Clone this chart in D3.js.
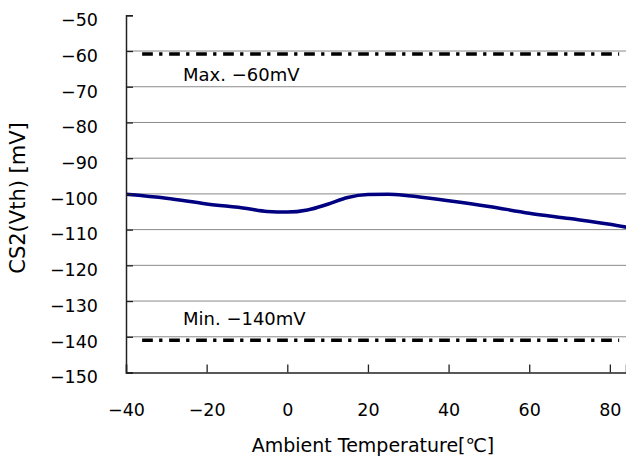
<!DOCTYPE html>
<html>
<head>
<meta charset="utf-8">
<script src="https://cdn.jsdelivr.net/npm/d3@7"></script>
<style>
body { margin: 0; background: #fff; }
text { font-family: "DejaVu Sans", "Noto Sans CJK JP", sans-serif; fill: #000; }
</style>
</head>
<body>
<div id="chart"></div>
<script>
// ambient temperature (degC) and measured threshold (mV)
var temps = [-40, -30, -20, -10, -5, 0, 5, 10, 15, 20, 25, 30, 40, 50, 60, 70, 80, 85];
var vth = [-100.1, -101.2, -102.8, -104.1, -104.9, -105.1, -104.5, -102.9, -101.0, -100.2, -100.1, -100.5, -101.9, -103.5, -105.4, -106.9, -108.5, -109.5];

// spec limit lines
var limitNames = ["Max. \u221260mV", "Min. \u2212140mV"];
var limitValues = [-60.8, -141];
var limitStart = -36;
var limitEnd = 82.3;

var xTicks = [-40, -20, 0, 20, 40, 60, 80];
var yTicks = [-50, -60, -70, -80, -90, -100, -110, -120, -130, -140, -150];

var W = 626, H = 459;
var margin = { left: 126, right: 0, top: 15.3, bottom: 86.5 };

var svg = d3.select("#chart").append("svg").attr("width", W).attr("height", H);

var x = d3.scaleLinear().domain([-40, 84]).range([margin.left, W - margin.right]);
var y = d3.scaleLinear().domain([-150, -50]).range([H - margin.bottom, margin.top]);

function minus(v) { return v < 0 ? "\u2212" + Math.abs(v) : String(v); }

// gridlines
svg.append("g").selectAll("line").data(yTicks.filter(function (d) { return d > -150 && d < -50; }))
	.enter().append("line")
	.attr("x1", x(-40)).attr("x2", W)
	.attr("y1", function (d) { return y(d); }).attr("y2", function (d) { return y(d); })
	.attr("stroke", "#8a8a8a").attr("stroke-width", 1);

svg.append("defs").append("clipPath").attr("id", "clip")
	.append("rect").attr("x", x(-40)).attr("y", margin.top).attr("width", W - x(-40)).attr("height", y(-150) - margin.top);

// limit lines
var lim = svg.append("g");
lim.selectAll("line").data(limitValues).enter().append("line")
	.attr("x1", x(limitStart)).attr("x2", x(limitEnd))
	.attr("y1", function (d) { return y(d); }).attr("y2", function (d) { return y(d); })
	.attr("stroke", "#000").attr("stroke-width", 3.5)
	.attr("stroke-dasharray", "10.7,6.3,3.3,6.7");

lim.selectAll("text").data(limitNames).enter().append("text")
	.attr("x", 183)
	.attr("y", function (d, i) { return i == 0 ? 81 : 325; })
	.style("font-size", "18px")
	.text(function (d) { return d; });

// curve
var line = d3.line().x(function (d, i) { return x(temps[i]); }).y(function (d) { return y(d); })
	.curve(d3.curveMonotoneX);
svg.append("path").datum(vth)
	.attr("clip-path", "url(#clip)")
	.attr("d", line)
	.attr("fill", "none").attr("stroke", "#000080").attr("stroke-width", 3.5);

// axes
var yAxis = d3.axisLeft(y).tickValues(yTicks).tickSize(-7).tickPadding(28).tickFormat(minus);
var gy = svg.append("g").attr("transform", "translate(" + x(-40) + ",0)").call(yAxis);
var xAxis = d3.axisBottom(x).tickValues(xTicks).tickSize(-8).tickPadding(35).tickFormat(minus);
var gx = svg.append("g").attr("transform", "translate(0," + y(-150) + ")").call(xAxis);

[gx, gy].forEach(function (g) {
	g.select(".domain").attr("stroke", "#222").attr("stroke-width", 1.5);
	g.selectAll(".tick line").attr("stroke", "#222").attr("stroke-width", 1.3);
	g.selectAll(".tick text").style("font-size", "17.5px").style("font-family", "\"DejaVu Sans\", sans-serif");
});
gy.selectAll(".tick text").attr("y", 10.3).attr("dy", 0);
gx.selectAll(".tick text").attr("y", 43.5).attr("dy", 0);

// titles
svg.append("text").attr("x", 373).attr("y", 452)
	.attr("text-anchor", "middle").style("font-size", "19px")
	.text("Ambient Temperature[\u2103]");

svg.append("text").attr("transform", "translate(24.5," + 198 + ") rotate(-90)")
	.attr("text-anchor", "middle").style("font-size", "21px")
	.text("CS2(Vth) [mV]");
</script>
</body>
</html>
